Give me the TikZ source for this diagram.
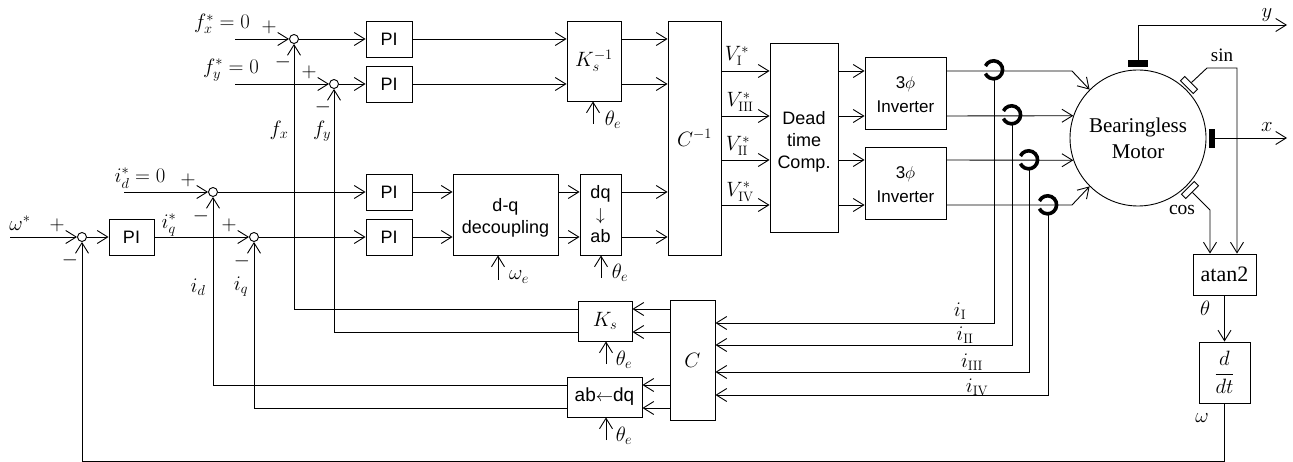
\documentclass[tikz,border=0pt]{standalone}
\usepackage{amsmath}
\usepackage{fontspec}
\usetikzlibrary{arrows.meta}
\newfontfamily\arialface{Liberation Sans}
\newfontfamily\timesface{Liberation Serif}
\newcommand{\toprule}[1]{\rule{0pt}{#1pt}}
\pgfdeclarelayer{bg}
\pgfsetlayers{bg,main}
\tikzset{
    >={Straight Barb[length=10.5pt,width=13pt,line width=0.9pt]},
    every path/.style={line width=0.9pt},
    empty/.style={draw=none, fill=none, minimum size=0mm, inner sep=0mm},
    block/.style={draw, inner sep=0mm, align=center, font=\arialface\fontsize{18}{22}\selectfont},
    invblock/.style={block, minimum width=81pt, minimum height=72pt, font=\arialface\fontsize{17}{24.5}\selectfont},
    mathblock/.style={block, font=\fontsize{20}{24}\selectfont},
    sumnode/.style={draw, circle, fill=white, minimum size=9pt, inner sep=0mm},
    txt/.style={empty, font=\fontsize{19.5}{22}\selectfont},
    sens/.style={draw, fill=black, inner sep=0mm},
    hallsens/.style={draw, fill=white, inner sep=0mm, minimum width=18pt, minimum height=6pt},
    hall/.style={empty, circle, minimum size=18pt},
    hallring/.style={line width=3.6pt}
}

\begin{document}
\begin{tikzpicture}[x=1pt, y=-1pt]
    \useasboundingbox (0,0) rectangle (1293,462);

    \node (sumfx) at (294,39) [sumnode] {};
    \node (sumfy) at (334,84) [sumnode] {};
    \node (sumid) at (213,192) [sumnode] {};
    \node (sumw) at (82,237) [sumnode] {};
    \node (sumiq) at (254,237) [sumnode] {};

    \node (pifx) at (389,39) [block, minimum width=46pt, minimum height=36pt] {PI};
    \node (pify) at (389,84) [block, minimum width=46pt, minimum height=36pt] {PI};
    \node (piid) at (389,192) [block, minimum width=46pt, minimum height=36pt] {PI};
    \node (piiq) at (389,237) [block, minimum width=46pt, minimum height=36pt] {PI};
    \node (piw) at (131.5,237) [block, minimum width=45pt, minimum height=36pt] {PI};

    \node (ksi) at (594,61) [mathblock, minimum width=54pt, minimum height=80pt] {$K_s^{-1}$};
    \node (cinv) at (694.5,138) [mathblock, minimum width=53pt, minimum height=234pt] {$C^{-1}$};
    \node (dqdec) at (505.5,214.5) [block, minimum width=105pt, minimum height=81pt] {\toprule{19}d-q\\decoupling};
    \node (dqab) at (600.5,214.5) [block, minimum width=41pt, minimum height=81pt] {dq\\$\downarrow$\\ab};
    \node (dead) at (804,137.5) [block, minimum width=68pt, minimum height=189pt] {\toprule{21}Dead\\time\\Comp.};
    \node (inva) at (905.5,93) [invblock] {\toprule{15}3$\phi$\\Inverter};
    \node (invb) at (905.5,183) [invblock] {\toprule{15}3$\phi$\\Inverter};
    \node (ks) at (605,321) [mathblock, minimum width=54pt, minimum height=40pt] {$K_s$};
    \node (abdq) at (604.5,397) [block, minimum width=75pt, minimum height=40pt, font=\arialface\fontsize{19}{22}\selectfont] {ab$\leftarrow$dq};
    \node (cmat) at (692.5,360) [mathblock, minimum width=45pt, minimum height=120pt] {$C$};
    \node (atan) at (1224.5,274.5) [block, minimum width=63pt, minimum height=41pt, font=\timesface\fontsize{22}{24}\selectfont] {atan2};
    \node (ddt) at (1224.5,372.5) [mathblock, minimum width=51pt, minimum height=61pt] {$\dfrac{d}{dt}$};

    \node (motor) at (1138,138) [draw, circle, minimum size=136pt, inner sep=0mm, align=center, font=\timesface\fontsize{21}{26}\selectfont] {\toprule{16}Bearingless\\Motor};
    \node (ysens) at (1138,63) [sens, minimum width=19pt, minimum height=6pt] {};
    \node (xsens) at (1212,138) [sens, minimum width=5pt, minimum height=18pt] {};
    \node (sinsens) at (1189,85) [hallsens, rotate=-45] {};
    \node (cossens) at (1190,190) [hallsens, rotate=45] {};

    \node (halla) at (994,70) [hall] {};
    \node (hallb) at (1012,115) [hall] {};
    \node (hallc) at (1029,160) [hall] {};
    \node (halld) at (1048,205) [hall] {};
    \draw [hallring] (halla.155) arc [start angle=155, end angle=-155, radius=9pt];
    \draw [hallring] (hallb.155) arc [start angle=155, end angle=-155, radius=9pt];
    \draw [hallring] (hallc.155) arc [start angle=155, end angle=-155, radius=9pt];
    \draw [hallring] (halld.155) arc [start angle=155, end angle=-155, radius=9pt];

    % free ends and corners
    \coordinate (fxin) at (235,39);
    \coordinate (fyin) at (235,84);
    \coordinate (idin) at (124,192);
    \coordinate (wIn) at (10,237);
    \coordinate (rowa) at (0,71);
    \coordinate (rowb) at (0,116);
    \coordinate (rowc) at (0,160);
    \coordinate (rowd) at (0,205);
    \coordinate (fbx) at (294,309);
    \coordinate (fby) at (334,332);
    \coordinate (fbd) at (213,385);
    \coordinate (fbq) at (254,408);
    \coordinate (fba) at (0,323);
    \coordinate (fbb) at (0,345);
    \coordinate (fbc) at (0,372);
    \coordinate (fbe) at (0,395);
    \coordinate (kneea) at (1072,71);
    \coordinate (kneed) at (1072,205);
    \coordinate (yout) at (1287,25);
    \coordinate (xout) at (1287,138);
    \coordinate (sinknee) at (1207,68);
    \coordinate (sinturn) at (1237,68);
    \coordinate (cosknee) at (1210,210);
    \coordinate (wbot) at (82,461);
    \coordinate (thksi) at (593,124);
    \coordinate (thab) at (601,278);
    \coordinate (wedec) at (498,280);
    \coordinate (thks) at (606,364);
    \coordinate (thdq) at (606,440);

    \begin{pgfonlayer}{bg}
        \draw [->] (fxin) -- (sumfx);
        \draw [->] (fyin) -- (sumfy);
        \draw [->] (idin) -- (sumid);
        \draw [->] (wIn) -- (sumw);
        \draw [->] (sumw) -- (piw);
        \draw [->] (piw) -- (sumiq);
        \draw [->] (sumfx) -- (pifx);
        \draw [->] (sumfy) -- (pify);
        \draw [->] (sumid) -- (piid);
        \draw [->] (sumiq) -- (piiq);

        \draw [->] (pifx) -- (ksi.west |- pifx);
        \draw [->] (pify) -- (ksi.west |- pify);
        \draw [->] (ksi.east |- pifx) -- (cinv.west |- pifx);
        \draw [->] (ksi.east |- pify) -- (cinv.west |- pify);
        \draw [->] (piid) -- (dqdec.west |- piid);
        \draw [->] (piiq) -- (dqdec.west |- piiq);
        \draw [->] (dqdec.east |- piid) -- (dqab.west |- piid);
        \draw [->] (dqdec.east |- piiq) -- (dqab.west |- piiq);
        \draw [->] (dqab.east |- piid) -- (cinv.west |- piid);
        \draw [->] (dqab.east |- piiq) -- (cinv.west |- piiq);

        \draw [->] (cinv.east |- rowa) -- (dead.west |- rowa);
        \draw [->] (cinv.east |- rowb) -- (dead.west |- rowb);
        \draw [->] (cinv.east |- rowc) -- (dead.west |- rowc);
        \draw [->] (cinv.east |- rowd) -- (dead.west |- rowd);
        \draw [->] (dead.east |- rowa) -- (inva.west |- rowa);
        \draw [->] (dead.east |- rowb) -- (inva.west |- rowb);
        \draw [->] (dead.east |- rowc) -- (invb.west |- rowc);
        \draw [->] (dead.east |- rowd) -- (invb.west |- rowd);

        \draw [->] (inva.east |- rowa) -- (kneea) -- (motor.135);
        \draw [->] (inva.east |- rowb) -- (motor.161);
        \draw [->] (invb.east |- rowc) -- (motor.199);
        \draw [->] (invb.east |- rowd) -- (kneed) -- (motor.225);

        \draw [->] (halla.south) |- (cmat.east |- fba);
        \draw [->] (hallb.south) |- (cmat.east |- fbb);
        \draw [->] (hallc.south) |- (cmat.east |- fbc);
        \draw [->] (halld.south) |- (cmat.east |- fbe);

        \draw [->] (cmat.west |- fbx) -- (ks.east |- fbx);
        \draw [->] (cmat.west |- fby) -- (ks.east |- fby);
        \draw [->] (cmat.west |- fbd) -- (abdq.east |- fbd);
        \draw [->] (cmat.west |- fbq) -- (abdq.east |- fbq);
        \draw [->] (ks.west |- fbx) -- (fbx) -- (sumfx);
        \draw [->] (ks.west |- fby) -- (fby) -- (sumfy);
        \draw [->] (abdq.west |- fbd) -- (fbd) -- (sumid);
        \draw [->] (abdq.west |- fbq) -- (fbq) -- (sumiq);

        \draw [->] (ysens.north) |- (yout);
        \draw [->] (xsens.east) -- (xout);
        \draw [->] (sinsens.north) -- (sinknee) -- (sinturn) -- (atan.north -| sinturn);
        \draw [->] (cossens.south) -- (cosknee) -- (atan.north -| cosknee);
        \draw [->] (atan.south) -- (ddt.north);
        \draw [->] (ddt.south) |- (wbot) -- (sumw);

        \draw [->] (thksi) -- (ksi.south -| thksi);
        \draw [->] (thab) -- (dqab.south -| thab);
        \draw [->] (wedec) -- (dqdec.south -| wedec);
        \draw [->] (thks) -- (ks.south -| thks);
        \draw [->] (thdq) -- (abdq.south -| thdq);
    \end{pgfonlayer}

    \node (lfxs) at (222,24) [txt] {$f_x^*=0$};
    \node (lfys) at (231,70) [txt] {$f_y^*=0$};
    \node (lids) at (140,178) [txt] {$i_d^*=0$};
    \node (lws) at (20,223) [txt] {$\omega^*$};
    \node (liqs) at (169,225) [txt] {$i_q^*$};
    \node (lfx) at (279,130) [txt] {$f_x$};
    \node (lfy) at (322,131) [txt] {$f_y$};
    \node (lid) at (198,287) [txt] {$i_d$};
    \node (liq) at (241,287) [txt] {$i_q$};

    \node (pfx) at (269,27) [txt] {$+$};
    \node (mfx) at (283,62) [txt] {$-$};
    \node (pfy) at (309,72) [txt] {$+$};
    \node (mfy) at (323,107) [txt] {$-$};
    \node (pid) at (188,180) [txt] {$+$};
    \node (mid) at (201,216) [txt] {$-$};
    \node (pw) at (57,225) [txt] {$+$};
    \node (mw) at (70,260) [txt] {$-$};
    \node (piqs) at (229,225) [txt] {$+$};
    \node (miq) at (242,261) [txt] {$-$};

    \node (lva) at (737,56) [txt] {$V_{\mathrm{I}}^*$};
    \node (lvb) at (740,102) [txt] {$V_{\mathrm{III}}^*$};
    \node (lvc) at (738,146) [txt] {$V_{\mathrm{II}}^*$};
    \node (lvd) at (740,192) [txt] {$V_{\mathrm{IV}}^*$};
    \node (lia) at (960,311) [txt] {$i_{\mathrm{I}}$};
    \node (lib) at (965,335) [txt] {$i_{\mathrm{II}}$};
    \node (lic) at (972,362) [txt] {$i_{\mathrm{III}}$};
    \node (lie) at (977,387) [txt] {$i_{\mathrm{IV}}$};

    \node (lthksi) at (613,120) [txt] {$\theta_e$};
    \node (lthab) at (620,273) [txt] {$\theta_e$};
    \node (lwe) at (519,277) [txt] {$\omega_e$};
    \node (lthks) at (624,360) [txt] {$\theta_e$};
    \node (lthdq) at (624,436) [txt] {$\theta_e$};

    \node (ly) at (1267,15) [txt] {$y$};
    \node (lx) at (1267,127) [txt] {$x$};
    \node (lsin) at (1222,55) [txt, font=\timesface\fontsize{19}{22}\selectfont] {sin};
    \node (lcos) at (1182,210) [txt, font=\timesface\fontsize{19.5}{22}\selectfont] {cos};
    \node (lth) at (1205,308) [txt] {$\theta$};
    \node (lw) at (1202,418) [txt] {$\omega$};
\end{tikzpicture}
\end{document}
